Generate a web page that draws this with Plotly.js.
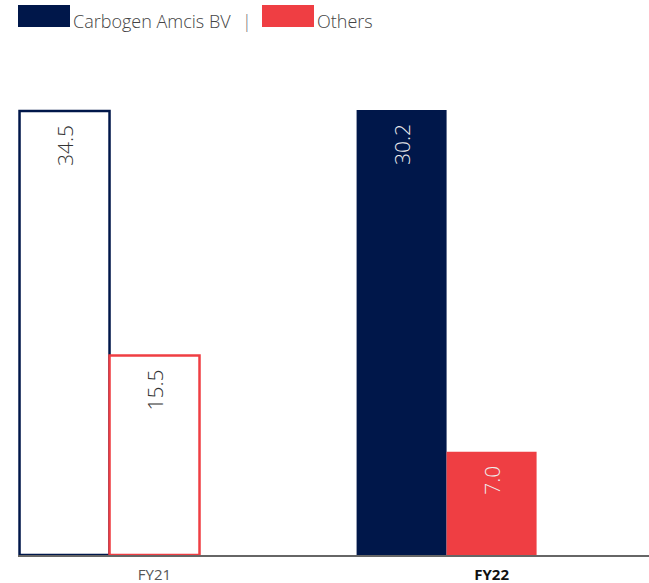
<!DOCTYPE html>
<html>
<head>
<meta charset="utf-8">
<script src="https://cdn.plot.ly/plotly-3.0.1.min.js"></script>
<style>
  html, body { margin: 0; padding: 0; background: #fff; }
  #chart { width: 649px; height: 583px; }
</style>
</head>
<body>
<div id="chart"></div>
<script>
// Revenue split by customer, per fiscal year
const years = ['FY21', 'FY22'];
const seriesNames = ['Carbogen Amcis BV', 'Others'];
const carbogen = [34.5, 30.2];
const others = [15.5, 7.0];
const tickLabels = ['<span style="color:#555">FY21</span>', '<b style="color:#111">FY22</b>'];

const NAVY = '#00174A';
const RED = '#EF3E43';
const W = 0.267;
const FONT = '"Open Sans", Lato, sans-serif';

// each year is drawn on its own value axis
const yRanges = [35.36, 30.88];

const traces = [];
years.forEach((yr, i) => {
  const filled = i === 1;
  const axis = i === 0 ? 'y' : 'y2';
  [[carbogen, NAVY, -1.5 * W], [others, RED, -0.5 * W]].forEach(([vals, col, off]) => {
    traces.push({
      type: 'bar',
      x: [yr],
      y: [vals[i]],
      yaxis: axis,
      width: W,
      offset: off,
      marker: {
        color: filled ? col : '#ffffff',
        line: { color: col, width: filled ? 0 : 2.5 }
      },
      texttemplate: '%{y:.1f}\u00a0\u00a0',
      textposition: 'inside',
      insidetextanchor: 'end',
      textangle: -90,
      constraintext: 'none',
      textfont: { family: FONT, size: 21, weight: 300, color: filled ? '#eeeeee' : '#333' },
      hoverinfo: 'skip',
      showlegend: false
    });
  });
});

const legendFont = { family: FONT, size: 18, weight: 300, color: '#444' };

const layout = {
  width: 649,
  height: 583,
  margin: { l: 18, r: 0, t: 100, b: 28 },
  paper_bgcolor: '#fff',
  plot_bgcolor: '#fff',
  barmode: 'overlay',
  xaxis: {
    type: 'category',
    range: [-0.405, 1.467],
    tickvals: years,
    ticktext: tickLabels,
    showline: true,
    linecolor: '#666',
    linewidth: 1.5,
    showgrid: false,
    zeroline: false,
    ticks: '',
    ticklabelstandoff: 5,
    tickfont: { family: FONT, size: 15, color: '#555' }
  },
  yaxis: { range: [0, yRanges[0]], visible: false, fixedrange: true },
  yaxis2: { range: [0, yRanges[1]], overlaying: 'y', visible: false, fixedrange: true },
  shapes: [
    { type: 'rect', xref: 'paper', yref: 'paper', x0: 0, x1: 52 / 631, y0: 1 + 73 / 455, y1: 1 + 95 / 455,
      fillcolor: NAVY, line: { width: 0 } },
    { type: 'rect', xref: 'paper', yref: 'paper', x0: 244 / 631, x1: 296 / 631, y0: 1 + 73 / 455, y1: 1 + 95 / 455,
      fillcolor: RED, line: { width: 0 } }
  ],
  annotations: [
    { xref: 'paper', yref: 'paper', x: 53 / 631, y: 1 + 79 / 455, xanchor: 'left', yanchor: 'middle',
      text: seriesNames[0], showarrow: false, font: legendFont },
    { xref: 'paper', yref: 'paper', x: 229 / 631, y: 1 + 79 / 455, xanchor: 'center', yanchor: 'middle',
      text: '|', showarrow: false, font: { family: FONT, size: 18, weight: 300, color: '#777' } },
    { xref: 'paper', yref: 'paper', x: 297 / 631, y: 1 + 79 / 455, xanchor: 'left', yanchor: 'middle',
      text: seriesNames[1], showarrow: false, font: legendFont }
  ],
  showlegend: false
};

Plotly.newPlot('chart', traces, layout, { displayModeBar: false, staticPlot: true });
</script>
</body>
</html>
